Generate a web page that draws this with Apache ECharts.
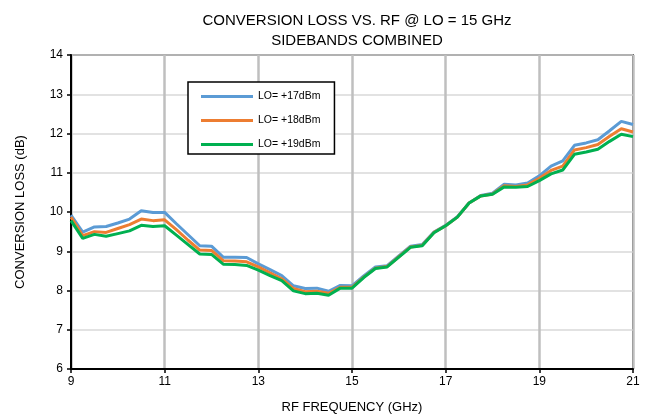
<!DOCTYPE html>
<html>
<head>
<meta charset="utf-8">
<script src="https://cdn.jsdelivr.net/npm/echarts@6/dist/echarts.min.js"></script>
<style>
html,body{margin:0;padding:0;background:#fff;}
#c{width:648px;height:419px;}
</style>
</head>
<body>
<div id="c"></div>
<script>
var freq = [9, 9.25, 9.5, 9.75, 10, 10.25, 10.5, 10.75, 11, 11.25, 11.5, 11.75, 12, 12.25, 12.5, 12.75,
  13, 13.25, 13.5, 13.75, 14, 14.25, 14.5, 14.75, 15, 15.25, 15.5, 15.75, 16, 16.25, 16.5, 16.75,
  17, 17.25, 17.5, 17.75, 18, 18.25, 18.5, 18.75, 19, 19.25, 19.5, 19.75, 20, 20.25, 20.5, 20.75, 21];
var lo17 = [9.92, 9.49, 9.62, 9.63, 9.72, 9.82, 10.03, 9.99, 9.99, 9.70, 9.42, 9.14, 9.13, 8.85, 8.85, 8.84,
  8.68, 8.53, 8.38, 8.12, 8.05, 8.06, 7.98, 8.13, 8.12, 8.37, 8.60, 8.63, 8.88, 9.13, 9.17, 9.49,
  9.66, 9.88, 10.23, 10.42, 10.48, 10.71, 10.69, 10.74, 10.92, 11.17, 11.30, 11.70, 11.76, 11.84, 12.07, 12.31, 12.23];
var lo18 = [9.87, 9.40, 9.50, 9.48, 9.58, 9.68, 9.82, 9.78, 9.80, 9.55, 9.28, 9.03, 9.02, 8.76, 8.75, 8.73,
  8.60, 8.45, 8.30, 8.05, 7.97, 7.98, 7.93, 8.08, 8.08, 8.34, 8.57, 8.61, 8.86, 9.11, 9.15, 9.48,
  9.65, 9.87, 10.23, 10.41, 10.46, 10.67, 10.65, 10.69, 10.86, 11.06, 11.17, 11.58, 11.64, 11.72, 11.93, 12.12, 12.04];
var lo19 = [9.78, 9.33, 9.43, 9.38, 9.45, 9.52, 9.66, 9.63, 9.65, 9.41, 9.17, 8.93, 8.92, 8.67, 8.66, 8.64,
  8.52, 8.38, 8.25, 7.99, 7.92, 7.93, 7.88, 8.06, 8.06, 8.33, 8.56, 8.60, 8.85, 9.10, 9.14, 9.47,
  9.65, 9.87, 10.23, 10.41, 10.45, 10.64, 10.63, 10.65, 10.80, 10.97, 11.07, 11.47, 11.53, 11.60, 11.80, 11.98, 11.92];
var seriesNames = ['LO= +17dBm', 'LO= +18dBm', 'LO= +19dBm'];
var seriesColors = ['#5B9BD5', '#ED7D31', '#00B050'];
var titleText = 'CONVERSION LOSS VS. RF @ LO = 15 GHz\nSIDEBANDS COMBINED';

var chart = echarts.init(document.getElementById('c'), null, {renderer: 'canvas'});
var font = 'Liberation Sans, Arial, sans-serif';
var data = [lo17, lo18, lo19];
chart.setOption({
  animation: false,
  backgroundColor: '#fff',
  title: {
    text: titleText,
    left: 352, top: 6, textAlign: 'center',
    textStyle: {fontFamily: font, fontSize: 15, fontWeight: 'normal', color: '#000', lineHeight: 20}
  },
  legend: {
    orient: 'vertical', left: 188, top: 82,
    padding: [9, 14, 4, 13],
    itemWidth: 52, itemHeight: 3, itemGap: 13,
    icon: 'rect',
    borderColor: '#000', borderWidth: 1.5, backgroundColor: '#fff',
    textStyle: {fontFamily: font, fontSize: 10.5, color: '#000', padding: [0, 0, 0, 0]},
    data: seriesNames
  },
  grid: {left: 71, right: 15, top: 55, bottom: 48, show: true, borderColor: '#000', borderWidth: 1.5},
  xAxis: {
    type: 'category', data: freq, boundaryGap: false,
    name: 'RF FREQUENCY (GHz)', nameLocation: 'middle', nameGap: 32,
    nameTextStyle: {fontFamily: font, fontSize: 13, color: '#000'},
    axisLine: {lineStyle: {color: '#000', width: 2}},
    axisTick: {interval: 7, length: 4, lineStyle: {color: '#000', width: 1.5}},
    axisLabel: {interval: 7, fontFamily: font, fontSize: 12, color: '#000', margin: 7},
    splitLine: {show: true, interval: 7, lineStyle: {color: '#BFBFBF', width: 2.5}}
  },
  yAxis: {
    type: 'value', min: 6, max: 14, interval: 1,
    name: 'CONVERSION LOSS (dB)', nameLocation: 'middle', nameGap: 44,
    nameTextStyle: {fontFamily: font, fontSize: 13, color: '#000'},
    axisLine: {show: true, lineStyle: {color: '#000', width: 2}},
    axisTick: {show: true, length: 4, lineStyle: {color: '#000', width: 1.5}},
    axisLabel: {fontFamily: font, fontSize: 12, color: '#000', margin: 8},
    splitLine: {show: true, lineStyle: {color: '#D9D9D9', width: 1.5}}
  },
  series: seriesNames.map(function (n, i) {
    return {
      name: n, type: 'line', data: data[i], symbol: 'none',
      lineStyle: {width: 3, color: seriesColors[i]}, itemStyle: {color: seriesColors[i]}
    };
  })
});
</script>
</body>
</html>
